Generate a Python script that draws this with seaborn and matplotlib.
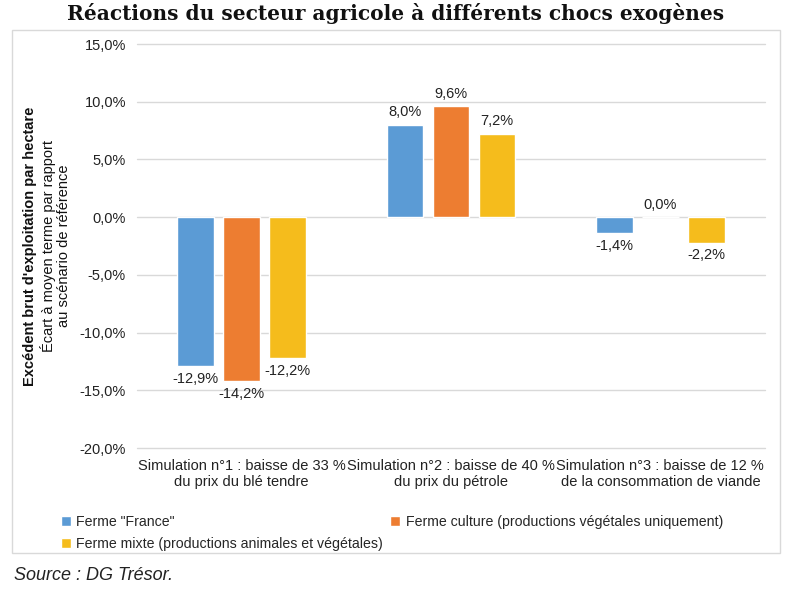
import matplotlib
matplotlib.use("Agg")
import matplotlib.pyplot as plt
import seaborn as sns
import pandas as pd
from matplotlib.patches import Rectangle

categories = ["Simulation n°1 : baisse de 33 %\ndu prix du blé tendre",
              "Simulation n°2 : baisse de 40 %\ndu prix du pétrole",
              "Simulation n°3 : baisse de 12 %\nde la consommation de viande"]
series = ['Ferme "France"', "Ferme culture (productions végétales uniquement)",
          "Ferme mixte (productions animales et végétales)"]
ferme_france = [-12.9, 8.0, -1.4]
ferme_culture = [-14.2, 9.6, 0.0]
ferme_mixte = [-12.2, 7.2, -2.2]
yticks = [-20, -15, -10, -5, 0, 5, 10, 15]
colors = ["#5B9BD5", "#ED7D31", "#F5BC1C"]

rows = []
for s, vals in zip(series, [ferme_france, ferme_culture, ferme_mixte]):
    for c, v in zip(categories, vals):
        rows.append({"cat": c, "serie": s, "val": v})
df = pd.DataFrame(rows)

sns.set_theme(style="white")
plt.rcParams["font.family"] = ["Liberation Sans", "DejaVu Sans"]

fig = plt.figure(figsize=(7.88, 6.13), dpi=100)
ax = fig.add_axes([137/788, 1-448/613, (765-137)/788, (448-44)/613])

sns.barplot(data=df, x="cat", y="val", hue="serie", palette=colors,
            width=0.66, gap=0.2, ax=ax, legend=True, saturation=1)

ax.set_ylim(-20, 15)
ax.set_yticks(yticks)
ax.set_yticklabels([f"{t:.1f}%".replace(".", ",") for t in yticks], fontsize=10.5, color="#222222")
ax.tick_params(axis="x", labelsize=10.5, colors="#222222", length=0, pad=8)
ax.tick_params(axis="y", length=0, pad=8)
ax.set_xlabel("")
ax.set_ylabel("")
ax.grid(axis="y", color="#D9D9D9", linewidth=1)
for gl in ax.get_ygridlines():
    gl.set_clip_on(False)
ax.set_axisbelow(True)
for sp in ax.spines.values():
    sp.set_visible(False)

for cont in ax.containers:
    for bar, v in zip(cont, cont.datavalues):
        lab = f"{v:.1f}%".replace(".", ",")
        x = bar.get_x() + bar.get_width()/2
        if v >= 0:
            ax.annotate(lab, (x, v), xytext=(0, 4), textcoords="offset points",
                        ha="center", va="bottom", fontsize=10.5, color="#222222")
        else:
            ax.annotate(lab, (x, v), xytext=(0, -4), textcoords="offset points",
                        ha="center", va="top", fontsize=10.5, color="#222222")

handles, labels = ax.get_legend_handles_labels()
ax.get_legend().remove()
order = [0, 2, 1]
fig.legend([handles[i] for i in order], [labels[i] for i in order],
           loc="upper left", bbox_to_anchor=(48/788, 1-502/613),
           ncol=2, frameon=False, fontsize=10.2, handlelength=0.7, handleheight=0.7,
           handletextpad=0.4, columnspacing=0.5, labelspacing=0.6)

fig.text(30/788, 1-246/613, "Excédent brut d'exploitation par hectare", rotation=90,
         ha="center", va="center", fontsize=10.5, fontweight="bold", color="#111111")
fig.text(48/788, 1-246/613, "Écart à moyen terme par rapport", rotation=90,
         ha="center", va="center", fontsize=10.5, color="#111111")
fig.text(64/788, 1-246/613, "au scénario de référence", rotation=90,
         ha="center", va="center", fontsize=10.5, color="#111111")

fig.patches.append(Rectangle((12/788, 1-553/613), (780-12)/788, (553-30)/613,
                             transform=fig.transFigure, fill=False,
                             edgecolor="#D9D9D9", linewidth=1))

fig.text(396/788, 1-14/613, "Réactions du secteur agricole à différents chocs exogènes",
         ha="center", va="center", fontsize=14.5, fontweight="bold",
         family=["DejaVu Serif"], color="#111111")
fig.text(14/788, 1-575/613, "Source : DG Trésor.", ha="left", va="center",
         fontsize=13, style="italic", color="#222222")

fig.savefig("out.png", dpi=100)
